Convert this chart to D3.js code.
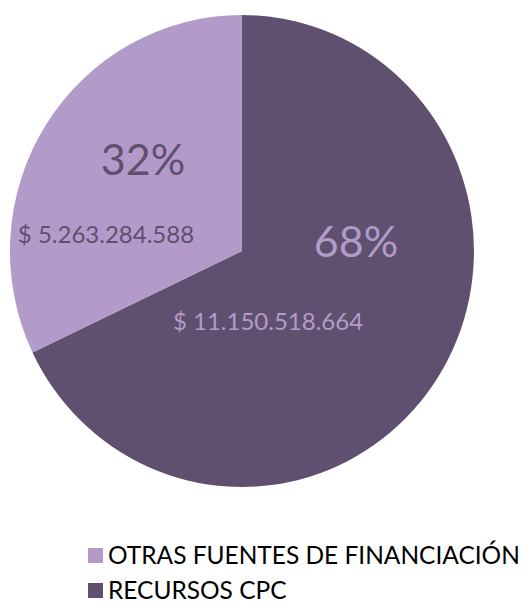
<!DOCTYPE html>
<html>
<head>
<meta charset="utf-8">
<script src="https://cdn.jsdelivr.net/npm/d3@7"></script>
<style>
  html, body { margin: 0; padding: 0; background: #fff; }
  svg text { font-family: Lato, "Open Sans", sans-serif; }
</style>
</head>
<body>
<svg id="chart" width="525" height="603"></svg>
<script>
// Funding sources
const categories = ["RECURSOS CPC", "OTRAS FUENTES DE FINANCIACIÓN"];
const amounts = [11150518664, 5263284588];
const amountLabels = ["$ 11.150.518.664", "$ 5.263.284.588"];
const colors = ["#5E506E", "#B29BC8"];
const labelColors = ["#B29BC8", "#5E506E"];
const legendOrder = ["OTRAS FUENTES DE FINANCIACIÓN", "RECURSOS CPC"];

const svg = d3.select("#chart");
const cx = 242, cy = 251, rx = 232, ry = 236;

const total = d3.sum(amounts);
const pie = d3.pie().sort(null).value(d => d);
const arcs = pie(amounts);
const arc = d3.arc().innerRadius(0).outerRadius(1);

// pie drawn as unit circle stretched to the plot's ellipse
const g = svg.append("g").attr("transform", `translate(${cx},${cy}) scale(${rx},${ry})`);
g.selectAll("path").data(arcs).join("path")
  .attr("d", arc)
  .attr("fill", (d, i) => colors[i]);

// percentage and amount labels
const pctPos = [[356, 257], [143, 175]];
const amtPos = [[268, 330], [106, 243]];
const lbl = svg.append("g");
arcs.forEach((d, i) => {
  lbl.append("text")
    .attr("x", pctPos[i][0]).attr("y", pctPos[i][1])
    .attr("text-anchor", "middle")
    .attr("font-size", 43)
    .attr("fill", labelColors[i])
    .text(d3.format(".0%")(amounts[i] / total));
  lbl.append("text")
    .attr("x", amtPos[i][0]).attr("y", amtPos[i][1])
    .attr("text-anchor", "middle")
    .attr("font-size", 24)
    .attr("fill", labelColors[i])
    .text(amountLabels[i]);
});

// legend: size the font so the longest entry fits the available width
const color = d3.scaleOrdinal().domain(categories).range(colors);
const lg = svg.append("g");
const legendX = 108, legendMaxW = 412;
const probe = lg.append("text").attr("font-size", 20).text(legendOrder[0]);
const legendFont = Math.min(25.5, 20 * legendMaxW / probe.node().getComputedTextLength());
probe.remove();
legendOrder.forEach((name, i) => {
  const y = 548 + i * 35;
  lg.append("rect").attr("x", 88).attr("y", y).attr("width", 15).attr("height", 15)
    .attr("fill", color(name));
  lg.append("text").attr("x", legendX).attr("y", y + 16)
    .attr("font-size", legendFont).attr("fill", "#000")
    .text(name);
});
</script>
</body>
</html>
